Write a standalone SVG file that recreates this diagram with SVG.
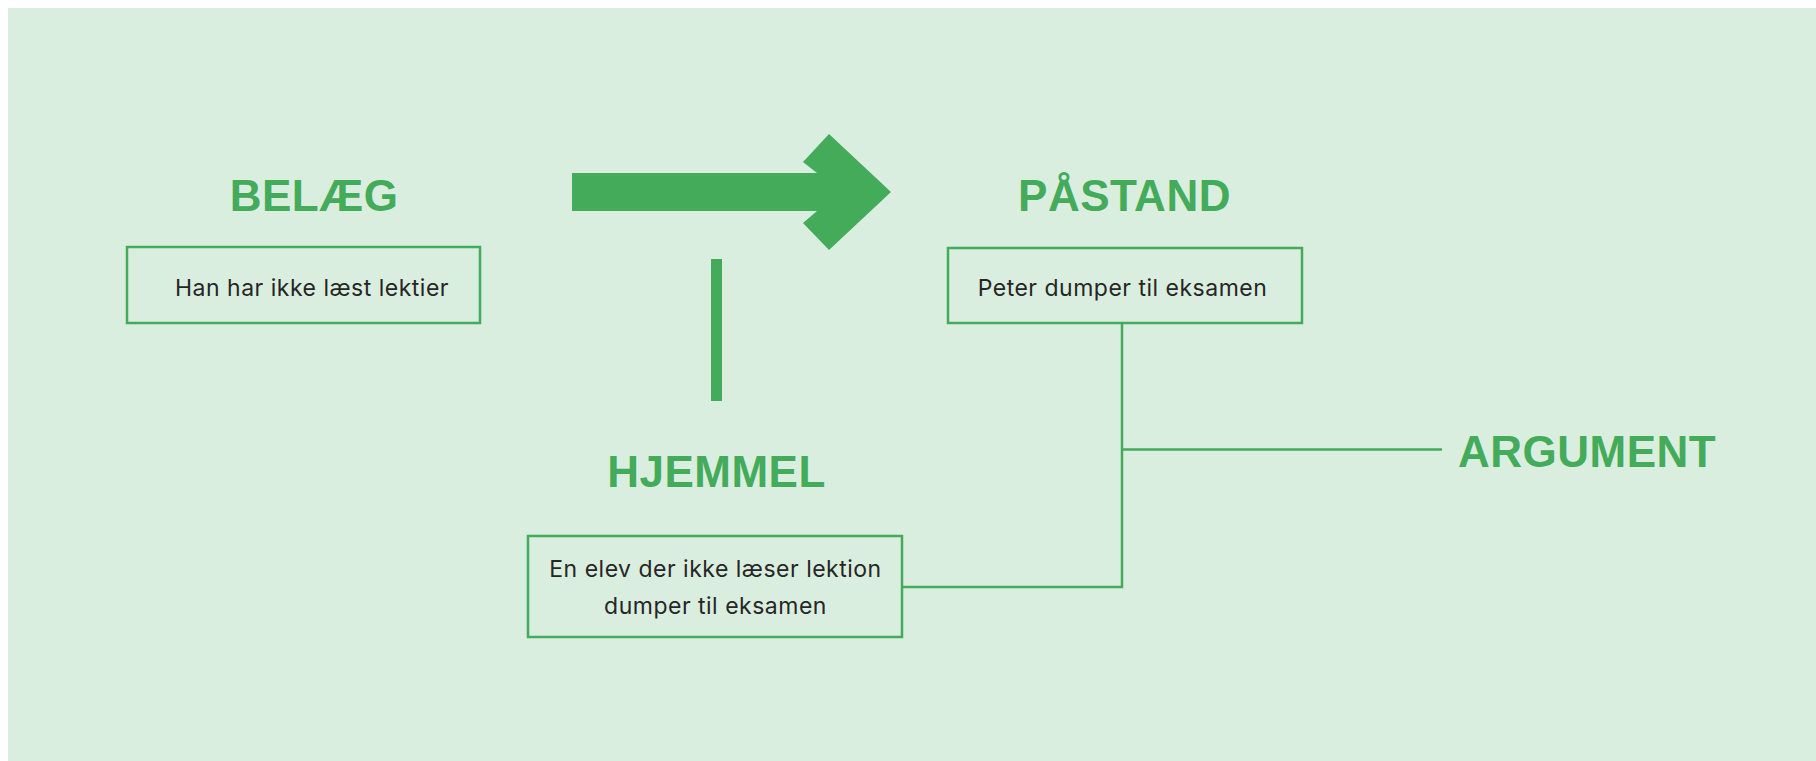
<svg xmlns="http://www.w3.org/2000/svg" width="1816" height="761" viewBox="0 0 1816 761">
<style>
.h{font-family:"Liberation Sans",Arial,sans-serif;font-weight:bold;font-size:44px;fill:#43AB5A;letter-spacing:0.5px}
.t{font-family:Inter,"Liberation Sans",Arial,sans-serif;font-size:23px;fill:#262626;text-anchor:middle;letter-spacing:0.5px}
.box{fill:none;stroke:#43AB5A;stroke-width:2.5}
.ln{fill:none;stroke:#43AB5A;stroke-width:2.5}
</style>
<rect x="0" y="0" width="1816" height="761" fill="#ffffff"/>
<rect x="8" y="8" width="1808" height="753" fill="#DAEEDF"/>
<g id="belaeg">
<text class="h" x="314" y="211" text-anchor="middle" letter-spacing="-0.5">BELÆG</text>
<rect class="box" x="127" y="247" width="353" height="76"/>
<text class="t" x="312" y="296">Han har ikke læst lektier</text>
</g>
<g id="paastand">
<text class="h" x="1124.5" y="211" text-anchor="middle" letter-spacing="0">PÅSTAND</text>
<rect class="box" x="948" y="248" width="354" height="75"/>
<text class="t" x="1122.5" y="296">Peter dumper til eksamen</text>
</g>
<g id="hjemmel">
<text class="h" x="716.5" y="487" text-anchor="middle">HJEMMEL</text>
<rect class="box" x="528" y="536" width="374" height="101"/>
<text class="t" x="715.5" y="577">En elev der ikke læser lektion</text>
<text class="t" x="715.5" y="614">dumper til eksamen</text>
</g>
<g id="argument">
<text class="h" x="1458" y="467">ARGUMENT</text>
</g>
<g id="connectors">
<polygon points="572,173 817,173 803,162 829,134 891,192 829,250 803,223 817,211 572,211" fill="#43AB5A"/>
<rect x="711" y="259" width="11" height="142" fill="#43AB5A"/>
<polyline class="ln" points="1122,323 1122,587 902,587"/>
<line class="ln" x1="1122" y1="449.5" x2="1442" y2="449.5"/>
</g>
</svg>
